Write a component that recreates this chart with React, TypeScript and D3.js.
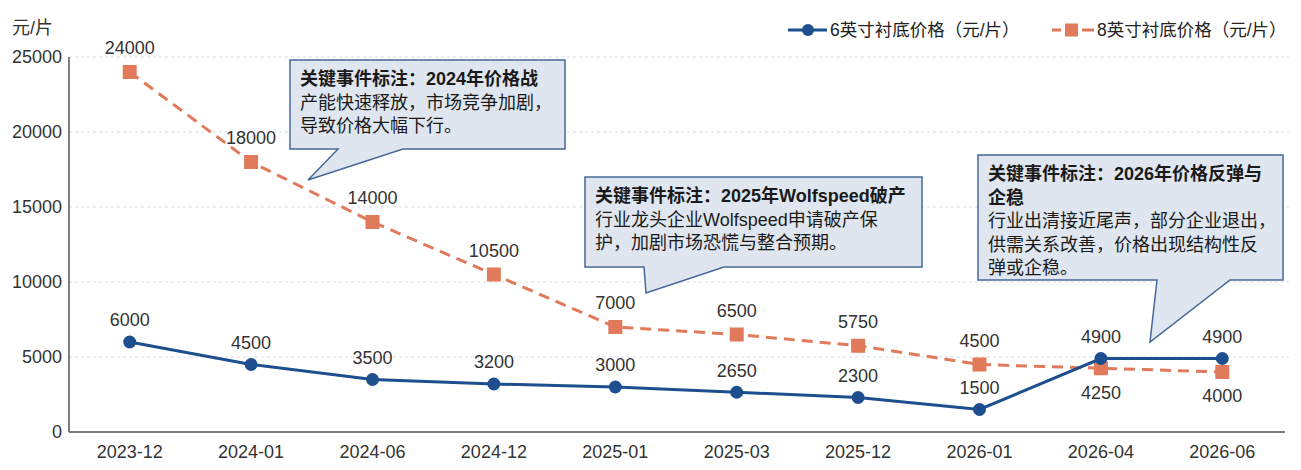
import * as d3 from 'd3'

const CATEGORIES = ['2023-12', '2024-01', '2024-06', '2024-12', '2025-01', '2025-03', '2025-12', '2026-01', '2026-04', '2026-06']
const SIX_INCH = [6000, 4500, 3500, 3200, 3000, 2650, 2300, 1500, 4900, 4900]
const EIGHT_INCH = [24000, 18000, 14000, 10500, 7000, 6500, 5750, 4500, 4250, 4000]
// labels of the 8" series drawn under the point
const EIGHT_BELOW = ['2026-04', '2026-06']
const Y_TICKS = [0, 5000, 10000, 15000, 20000, 25000]

const SERIES_NAMES = ['6英寸衬底价格（元/片）', '8英寸衬底价格（元/片）']

const CALLOUTS = [
  {
    box: [290, 60, 565, 149], tail: [[338, 149], [308, 180], [403, 149]],
    lines: [
      { t: '关键事件标注：2024年价格战', b: true },
      { t: '产能快速释放，市场竞争加剧，' },
      { t: '导致价格大幅下行。' },
    ],
  },
  {
    box: [585, 177, 922, 267], tail: [[644, 267], [646, 293], [724, 267]],
    lines: [
      { t: '关键事件标注：2025年Wolfspeed破产', b: true },
      { t: '行业龙头企业Wolfspeed申请破产保' },
      { t: '护，加剧市场恐慌与整合预期。' },
    ],
  },
  {
    box: [978, 155, 1283, 280], tail: [[1157, 280], [1150, 342], [1230, 280]],
    lines: [
      { t: '关键事件标注：2026年价格反弹与', b: true },
      { t: '企稳', b: true },
      { t: '行业出清接近尾声，部分企业退出，' },
      { t: '供需关系改善，价格出现结构性反' },
      { t: '弹或企稳。' },
    ],
  },
]

const W = 1301
const H = 470
const M = { left: 69, right: 18, top: 57, bottom: 38 }
const BLUE = '#1d4f8e'
const ORANGE = '#e07a5b'
const FONT = '"Liberation Sans", Arial, "Noto Sans CJK SC", sans-serif'

export default function App() {
  const x = d3.scaleBand().domain(CATEGORIES).range([M.left, W - M.right]).paddingInner(0).paddingOuter(0)
  const y = d3.scaleLinear().domain([0, 25000]).range([H - M.bottom, M.top])
  const cx = (c: string) => (x(c) ?? 0) + x.bandwidth() / 2

  const six = CATEGORIES.map((c, i) => ({ c, v: SIX_INCH[i] }))
  const eight = CATEGORIES.map((c, i) => ({ c, v: EIGHT_INCH[i] }))
  const line = d3.line<{ c: string; v: number }>().x(d => cx(d.c)).y(d => y(d.v))

  return (
    <svg width={W} height={H} style={{ position: 'absolute', left: 0, top: 0, background: '#fff', fontFamily: FONT }}>
      {/* grid */}
      {Y_TICKS.filter(t => t > 0).map(t => (
        <line key={t} x1={M.left} x2={W - 12} y1={y(t)} y2={y(t)} stroke="#d5dbe3" strokeWidth={1} strokeDasharray="3,3" />
      ))}
      {/* axes */}
      <line x1={M.left} x2={M.left} y1={y(25000)} y2={y(0)} stroke="#555" strokeWidth={1.5} />
      <line x1={M.left} x2={W - 16} y1={y(0)} y2={y(0)} stroke="#555" strokeWidth={1.5} />
      {Y_TICKS.map(t => (
        <text key={t} x={62} y={y(t)} dy="0.35em" textAnchor="end" fontSize={18} fill="#333">{t}</text>
      ))}
      {CATEGORIES.map(c => (
        <text key={c} x={cx(c)} y={y(0) + 26} textAnchor="middle" fontSize={18} fill="#333">{c}</text>
      ))}
      <text x={12} y={34} fontSize={18} fill="#333">元/片</text>

      {/* 8 inch */}
      <path d={line(eight) ?? ''} fill="none" stroke={ORANGE} strokeWidth={3} strokeDasharray="11,7" />
      {eight.map(d => (
        <rect key={d.c} x={cx(d.c) - 7} y={y(d.v) - 7} width={14} height={14} fill={ORANGE} />
      ))}
      {eight.map(d => {
        const below = EIGHT_BELOW.includes(d.c)
        return (
          <text key={d.c} x={cx(d.c)} y={y(d.v) + (below ? 24 : -24)} dy="0.35em" textAnchor="middle" fontSize={18} fill="#333">{d.v}</text>
        )
      })}

      {/* 6 inch */}
      <path d={line(six) ?? ''} fill="none" stroke={BLUE} strokeWidth={3} />
      {six.map(d => (
        <circle key={d.c} cx={cx(d.c)} cy={y(d.v)} r={6.5} fill={BLUE} />
      ))}
      {six.map(d => (
        <text key={d.c} x={cx(d.c)} y={y(d.v) - 22} dy="0.35em" textAnchor="middle" fontSize={18} fill="#333">{d.v}</text>
      ))}

      {/* callouts */}
      {CALLOUTS.map((co, i) => {
        const [x0, y0, x1, y1] = co.box
        const [a, tip, b] = co.tail
        const d = `M${x0},${y0}H${x1}V${y1}H${b[0]}L${tip[0]},${tip[1]}L${a[0]},${a[1]}H${x0}Z`
        return (
          <g key={i}>
            <path d={d} fill="#dfe6ef" stroke="#45689a" strokeWidth={1.5} />
            {co.lines.map((l, j) => (
              <text key={j} x={x0 + 10} y={y0 + 19 + j * 23.4} dy="0.35em" fontSize={18}
                fontWeight={l.b ? 'bold' : 'normal'} fill="#1a1a1a">{l.t}</text>
            ))}
          </g>
        )
      })}

      {/* legend */}
      <g>
        <line x1={788} x2={827} y1={30} y2={30} stroke={BLUE} strokeWidth={3} />
        <circle cx={808} cy={30} r={6} fill={BLUE} />
        <text x={830} y={30} dy="0.35em" fontSize={17.5} fill="#222">{SERIES_NAMES[0]}</text>
        <line x1={1052} x2={1094} y1={30} y2={30} stroke={ORANGE} strokeWidth={3} strokeDasharray="9,4,11,6,3,0" />
        <rect x={1065} y={23.5} width={13} height={13} fill={ORANGE} />
        <text x={1097} y={30} dy="0.35em" fontSize={17.5} fill="#222">{SERIES_NAMES[1]}</text>
      </g>
    </svg>
  )
}
